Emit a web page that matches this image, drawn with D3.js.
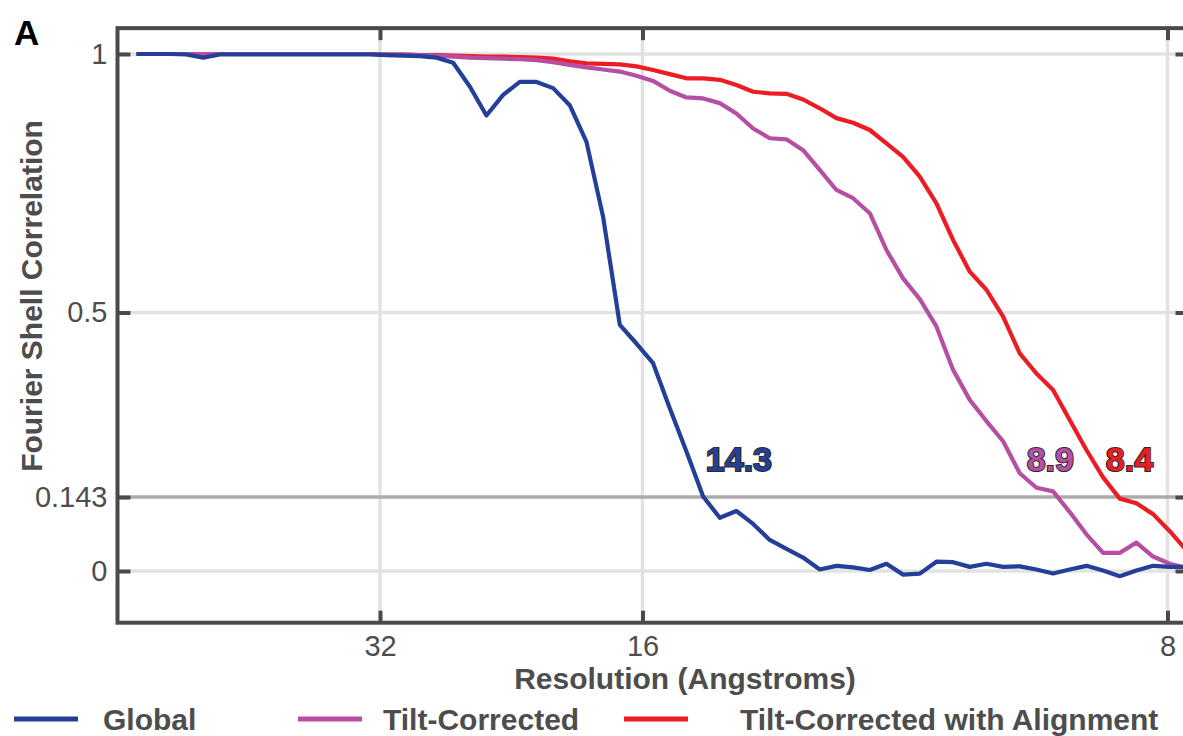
<!DOCTYPE html>
<html>
<head>
<meta charset="utf-8">
<script src="https://cdn.jsdelivr.net/npm/d3@7"></script>
<style>
  body { margin: 0; background: #fff; }
  svg { display: block; font-family: "Liberation Sans", Arial, sans-serif; }
</style>
</head>
<body>
<svg id="chart" width="1183" height="736"></svg>
<script>
// spatial frequency of each Fourier shell (1/Angstrom)
var freq = [
  0.00226, 0.00424, 0.00623, 0.00821, 0.01020, 0.01218, 0.01416, 0.01615,
  0.01813, 0.02012, 0.02210, 0.02408, 0.02607, 0.02805, 0.03004, 0.03202,
  0.03400, 0.03599, 0.03797, 0.03996, 0.04194, 0.04392, 0.04591, 0.04789,
  0.04988, 0.05186, 0.05384, 0.05583, 0.05781, 0.05980, 0.06178, 0.06376,
  0.06575, 0.06773, 0.06972, 0.07170, 0.07368, 0.07567, 0.07765, 0.07964,
  0.08162, 0.08360, 0.08559, 0.08757, 0.08956, 0.09154, 0.09352, 0.09551,
  0.09749, 0.09948, 0.10146, 0.10344, 0.10543, 0.10741, 0.10940, 0.11138,
  0.11336, 0.11535, 0.11733, 0.11932, 0.12130, 0.12328, 0.12527, 0.12725
];

var globalFsc = [
  1.000, 1.000, 1.000, 0.999, 0.993, 0.999, 0.999, 0.999,
  0.999, 0.999, 0.999, 0.999, 0.999, 0.999, 0.999, 0.998,
  0.997, 0.996, 0.993, 0.983, 0.937, 0.881, 0.921, 0.946,
  0.946, 0.934, 0.901, 0.830, 0.685, 0.476, 0.440, 0.402,
  0.315, 0.231, 0.144, 0.103, 0.116, 0.091, 0.060, 0.043,
  0.026, 0.003, 0.010, 0.007, 0.002, 0.014, -0.007, -0.005,
  0.018, 0.017, 0.008, 0.014, 0.008, 0.009, 0.003, -0.005,
  0.003, 0.010, 0.001, -0.010, 0.001, 0.010, 0.008, 0.008
];

var tiltFsc = [
  1.000, 1.000, 1.000, 1.000, 1.000, 1.000, 1.000, 1.000,
  1.000, 1.000, 1.000, 1.000, 1.000, 1.000, 1.000, 0.999,
  0.999, 0.998, 0.997, 0.995, 0.993, 0.992, 0.991, 0.990,
  0.988, 0.984, 0.979, 0.974, 0.970, 0.966, 0.958, 0.948,
  0.929, 0.916, 0.914, 0.905, 0.885, 0.856, 0.837, 0.835,
  0.814, 0.776, 0.737, 0.721, 0.692, 0.621, 0.566, 0.526,
  0.473, 0.389, 0.331, 0.290, 0.251, 0.189, 0.161, 0.154,
  0.114, 0.071, 0.035, 0.035, 0.055, 0.028, 0.014, 0.006
];

var alignFsc = [
  1.000, 1.000, 1.000, 1.000, 1.000, 1.000, 1.000, 1.000,
  1.000, 1.000, 1.000, 1.000, 1.000, 1.000, 1.000, 0.999,
  0.999, 0.998, 0.998, 0.997, 0.996, 0.995, 0.995, 0.994,
  0.993, 0.991, 0.986, 0.982, 0.981, 0.980, 0.976, 0.969,
  0.961, 0.953, 0.953, 0.950, 0.940, 0.927, 0.924, 0.923,
  0.912, 0.895, 0.876, 0.867, 0.853, 0.827, 0.801, 0.763,
  0.711, 0.640, 0.579, 0.544, 0.492, 0.421, 0.382, 0.350,
  0.292, 0.234, 0.181, 0.140, 0.131, 0.110, 0.077, 0.040
];

var seriesNames = ["Global", "Tilt-Corrected", "Tilt-Corrected with Alignment"];
var seriesColors = ["#233f98", "#b64fa3", "#ec1c25"];
var seriesValues = [globalFsc, tiltFsc, alignFsc];

var xTickRes = [32, 16, 8];            // Angstroms
var yTicks = [0, 0.143, 0.5, 1];
var cutoff = 0.143;
var resLabels = ["14.3", "8.9", "8.4"];
var resValues = [14.3, 8.9, 8.4];

var svg = d3.select("#chart");
var margin = {left: 117.5, top: 28.15};
var width = 1071, height = 594.55;

var x = d3.scaleLinear().domain([0, 0.1275]).range([0, width]);
var y = d3.scaleLinear().domain([-0.1, 1.05]).range([height, 0]);

var g = svg.append("g").attr("transform", "translate(" + margin.left + "," + margin.top + ")");

// clip for curves
svg.append("defs").append("clipPath").attr("id", "plotclip")
  .append("rect").attr("width", width).attr("height", height);

// grid
g.selectAll(".vgrid").data(xTickRes).enter().append("line")
  .attr("x1", d => x(1 / d)).attr("x2", d => x(1 / d))
  .attr("y1", 0).attr("y2", height)
  .attr("stroke", "#e2e2e2").attr("stroke-width", 3.5);

g.selectAll(".hgrid").data(yTicks).enter().append("line")
  .attr("x1", 0).attr("x2", width)
  .attr("y1", d => y(d)).attr("y2", d => y(d))
  .attr("stroke", d => d === cutoff ? "#ababab" : "#e2e2e2")
  .attr("stroke-width", 3.5);

// curves (red first, blue on top)
var line = d3.line()
  .x((d, i) => x(freq[i]))
  .y(d => y(d));

var curves = g.append("g").attr("clip-path", "url(#plotclip)");
[2, 1, 0].forEach(function (k) {
  curves.append("path")
    .datum(seriesValues[k])
    .attr("d", line)
    .attr("fill", "none")
    .attr("stroke", seriesColors[k])
    .attr("stroke-width", 4.2)
    .attr("stroke-linejoin", "round");
});

// resolution labels at the 0.143 crossing
var labelShift = [34, -11, 12];
g.selectAll(".reslabel").data(resLabels).enter().append("text")
  .attr("x", (d, i) => x(1 / resValues[i]) + labelShift[i])
  .attr("y", y(cutoff) - 26)
  .attr("text-anchor", "middle")
  .attr("font-size", 34)
  .attr("font-weight", "bold")
  .attr("fill", (d, i) => seriesColors[i])
  .attr("stroke", "#2a2a2a")
  .attr("stroke-width", 2)
  .attr("paint-order", "stroke")
  .text(d => d);

// axes
var axisColor = "#4a4a4a";
function styleAxis(sel) {
  sel.select(".domain").remove();
  sel.selectAll(".tick line").attr("stroke", axisColor).attr("stroke-width", 4);
  sel.selectAll(".tick text").attr("fill", "#4d4d4d").attr("font-size", 29)
    .attr("font-family", "Liberation Sans, Arial, sans-serif");
}

g.append("g")
  .call(d3.axisLeft(y).tickValues(yTicks).tickFormat(d => d === 1 ? "1" : String(d))
    .tickSizeInner(-13).tickSizeOuter(0).tickPadding(10))
  .call(styleAxis);

g.append("g").attr("transform", "translate(" + width + ",0)")
  .call(d3.axisRight(y).tickValues(yTicks).tickFormat("").tickSizeInner(-13).tickSizeOuter(0))
  .call(styleAxis);

g.append("g").attr("transform", "translate(0," + height + ")")
  .call(d3.axisBottom(x).tickValues(xTickRes.map(r => 1 / r)).tickFormat(d => Math.round(1 / d))
    .tickSizeInner(-12).tickSizeOuter(0).tickPadding(13))
  .call(styleAxis);

g.append("g")
  .call(d3.axisTop(x).tickValues(xTickRes.map(r => 1 / r)).tickFormat("")
    .tickSizeInner(-12).tickSizeOuter(0))
  .call(styleAxis);

// frame
g.append("rect")
  .attr("width", width).attr("height", height)
  .attr("fill", "none").attr("stroke", axisColor).attr("stroke-width", 4);

// axis titles
svg.append("text")
  .attr("x", 685).attr("y", 689)
  .attr("text-anchor", "middle")
  .attr("font-size", 30).attr("font-weight", "bold").attr("fill", "#4d4d4d")
  .text("Resolution (Angstroms)");

svg.append("text")
  .attr("transform", "translate(42,296) rotate(-90)")
  .attr("text-anchor", "middle")
  .attr("font-size", 30).attr("font-weight", "bold").attr("fill", "#4d4d4d")
  .text("Fourier Shell Correlation");

// panel letter
svg.append("text")
  .attr("x", 14).attr("y", 45)
  .attr("font-size", 35).attr("font-weight", "bold").attr("fill", "#000")
  .text("A");

// legend
var legendLineX = [14, 298, 624];
var legendTextX = [103, 383, 740];
var legend = svg.append("g").attr("transform", "translate(0,719)");
seriesNames.forEach(function (name, i) {
  legend.append("line")
    .attr("x1", legendLineX[i]).attr("x2", legendLineX[i] + 64)
    .attr("y1", 0).attr("y2", 0)
    .attr("stroke", seriesColors[i]).attr("stroke-width", 5);
  legend.append("text")
    .attr("x", legendTextX[i]).attr("y", 11)
    .attr("font-size", 30).attr("font-weight", "bold").attr("fill", "#4d4d4d")
    .text(name);
});
</script>
</body>
</html>
